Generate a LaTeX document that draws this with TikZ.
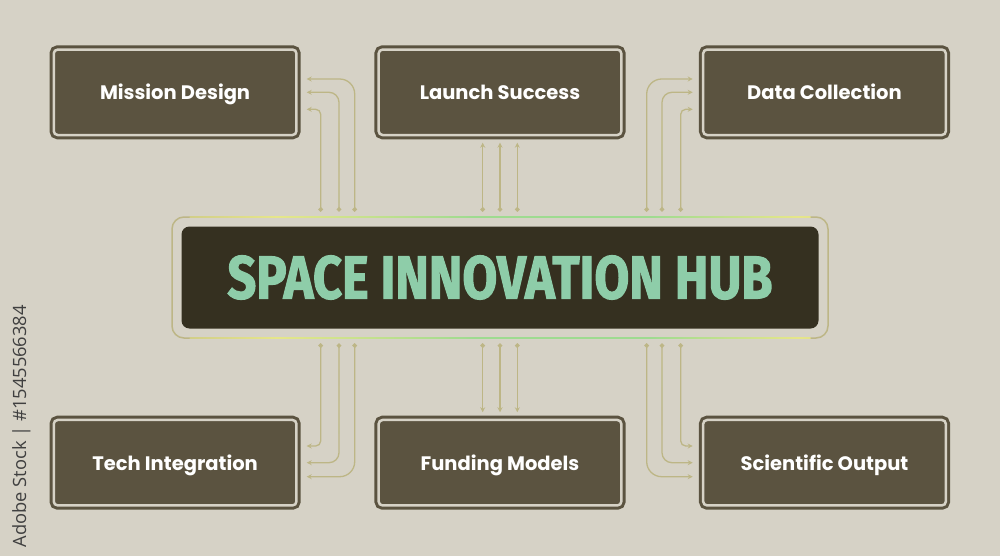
\documentclass[tikz,border=0pt]{standalone}
\usepackage{fontspec}
\setmainfont{Poppins}
\newfontfamily\hubfont[BoldFeatures={FakeBold=2}]{Fira Sans}
\newfontfamily\wmfont{Open Sans}
\usetikzlibrary{arrows.meta,calc}
\definecolor{bgc}{HTML}{D6D2C6}
\definecolor{boxc}{HTML}{5B5340}
\definecolor{hubc}{HTML}{353020}
\definecolor{hubtxt}{HTML}{8ECDA9}
\definecolor{olv}{HTML}{BDB686}
\definecolor{yel}{HTML}{E6E68A}
\definecolor{grn}{HTML}{9EDB90}
\definecolor{wmc}{HTML}{404040}
\pgfdeclarehorizontalshading{hgrad}{2bp}{color(0bp)=(olv); color(18bp)=(olv); color(32bp)=(yel); color(48bp)=(grn); color(62bp)=(grn); color(74bp)=(yel); color(86bp)=(olv); color(100bp)=(olv)}
\pgfdeclareverticalshading{vgrad}{2bp}{color(0bp)=(olv); color(15bp)=(yel); color(35bp)=(olv); color(55bp)=(grn); color(75bp)=(yel); color(90bp)=(olv); color(100bp)=(olv)}
\pgfdeclareverticalshading{vgradb}{2bp}{color(0bp)=(olv); color(20bp)=(grn); color(40bp)=(yel); color(60bp)=(olv); color(80bp)=(yel); color(100bp)=(olv)}
\tikzset{
  box/.style={rectangle, rounded corners=4pt, fill=boxc, draw=boxc, line width=3pt,
    double=bgc, double distance=2.5pt, minimum width=242.7pt, minimum height=85.5pt,
    outer sep=0pt, inner sep=0pt, text height=15.4pt, text depth=0pt, text=white,
    font=\bfseries\fontsize{19.5}{22}\selectfont},
  hub/.style={rectangle, rounded corners=8pt, fill=hubc, minimum width=637pt,
    minimum height=102pt, inner sep=0pt, outer sep=0pt, text=hubtxt, font=\hubfont\bfseries},
  frame/.style={draw=olv, line width=1.5pt, rounded corners=12pt},
  conn/.style={draw=olv, line width=1.3pt, arrows={Circle[length=4.5pt]-Stealth[length=5pt,width=5pt]}},
}
\begin{document}
\begin{tikzpicture}[x=1pt,y=-1pt]
\fill[bgc] (0,0) rectangle (1000,556);
\useasboundingbox (0,0) rectangle (1000,556);

% boxes
\node[box] (md) at (175.1,92.3) {Mission Design};
\node[box] (ls) at (500,92.3) {Launch Success};
\node[box] (dc) at (824.5,92.3) {Data Collection};
\node[box] (ti) at (175.1,462.7) {Tech Integration};
\node[box] (fm) at (500,462.7) {Funding Models};
\node[box] (so) at (824.5,462.7) {Scientific Output};

% hub
\node[hub] (hub) at (500,277.5) {\resizebox{545pt}{43pt}{SPACE INNOVATION HUB}};
\draw[frame] ($(hub.north west)+(-9.5,-9.5)$) rectangle ($(hub.south east)+(9.5,9.5)$);
\shade[shading=hgrad] ($(hub.north west)+(8,-10.25)$) rectangle ($(hub.north east)+(-8,-8.75)$);
\shade[shading=hgrad] ($(hub.south west)+(8,8.75)$) rectangle ($(hub.south east)+(-8,10.25)$);

% connector start points
\coordinate (a1) at (320.7,211.7);
\coordinate (a2) at (339,211.7);
\coordinate (a3) at (354.7,211.7);
\coordinate (b1) at (482.7,211.7);
\coordinate (b2) at (500,211.7);
\coordinate (b3) at (517.3,211.7);
\coordinate (c1) at (680.7,211.7);
\coordinate (c2) at (662,211.7);
\coordinate (c3) at (646.7,211.7);
\coordinate (d1) at (320.7,343.3);
\coordinate (d2) at (339,343.3);
\coordinate (d3) at (354.7,343.3);
\coordinate (f1) at (482.7,343.3);
\coordinate (f2) at (500,343.3);
\coordinate (f3) at (517.3,343.3);
\coordinate (e1) at (680.7,343.3);
\coordinate (e2) at (662,343.3);
\coordinate (e3) at (646.7,343.3);

% gradient glow on vertical runs
\foreach \x/\s in {320.7/vgrad,339/vgradb,354.7/vgrad,646.7/vgradb,662/vgrad,680.7/vgradb}{
  \shade[shading=\s] (\x-0.65,122) rectangle (\x+0.65,202);
  \shade[shading=\s] (\x-0.65,353) rectangle (\x+0.65,433);
}
\foreach \x/\s in {482.7/vgradb,500/vgrad,517.3/vgradb}{
  \shade[shading=\s] (\x-0.65,150) rectangle (\x+0.65,204);
  \shade[shading=\s] (\x-0.65,351) rectangle (\x+0.65,405);
}

% connectors top
\draw[conn, rounded corners=5pt] (a1) |- ([xshift=10.25pt,yshift=-17pt]md.east);
\draw[conn, rounded corners=10pt] (a2) |- ([xshift=10.25pt]md.east);
\draw[conn, rounded corners=15pt] (a3) |- ([xshift=10.25pt,yshift=13.3pt]md.east);
\draw[conn] (b1) -- ([xshift=-17.3pt,yshift=-7.65pt]ls.south);
\draw[conn] (b2) -- ([yshift=-7.65pt]ls.south);
\draw[conn] (b3) -- ([xshift=17.3pt,yshift=-7.65pt]ls.south);
\draw[conn, rounded corners=5pt] (c1) |- ([xshift=-10.45pt,yshift=-17pt]dc.west);
\draw[conn, rounded corners=10pt] (c2) |- ([xshift=-10.45pt]dc.west);
\draw[conn, rounded corners=15pt] (c3) |- ([xshift=-10.45pt,yshift=13.3pt]dc.west);

% connectors bottom
\draw[conn, rounded corners=5pt] (d1) |- ([xshift=10.25pt,yshift=16.7pt]ti.east);
\draw[conn, rounded corners=10pt] (d2) |- ([xshift=10.25pt]ti.east);
\draw[conn, rounded corners=15pt] (d3) |- ([xshift=10.25pt,yshift=-14pt]ti.east);
\draw[conn] (f1) -- ([xshift=-17.3pt,yshift=7.7pt]fm.north);
\draw[conn] (f2) -- ([yshift=7.7pt]fm.north);
\draw[conn] (f3) -- ([xshift=17.3pt,yshift=7.7pt]fm.north);
\draw[conn, rounded corners=5pt] (e1) |- ([xshift=-10.45pt,yshift=16.7pt]so.west);
\draw[conn, rounded corners=10pt] (e2) |- ([xshift=-10.45pt]so.west);
\draw[conn, rounded corners=15pt] (e3) |- ([xshift=-10.45pt,yshift=-14pt]so.west);

% side text
\node[rotate=90, anchor=east, inner sep=0pt, text=wmc, font=\wmfont\fontsize{18.3}{20}\selectfont] (wm) at (21.5,305) {Adobe Stock | \#1545566384};
\end{tikzpicture}
\end{document}
